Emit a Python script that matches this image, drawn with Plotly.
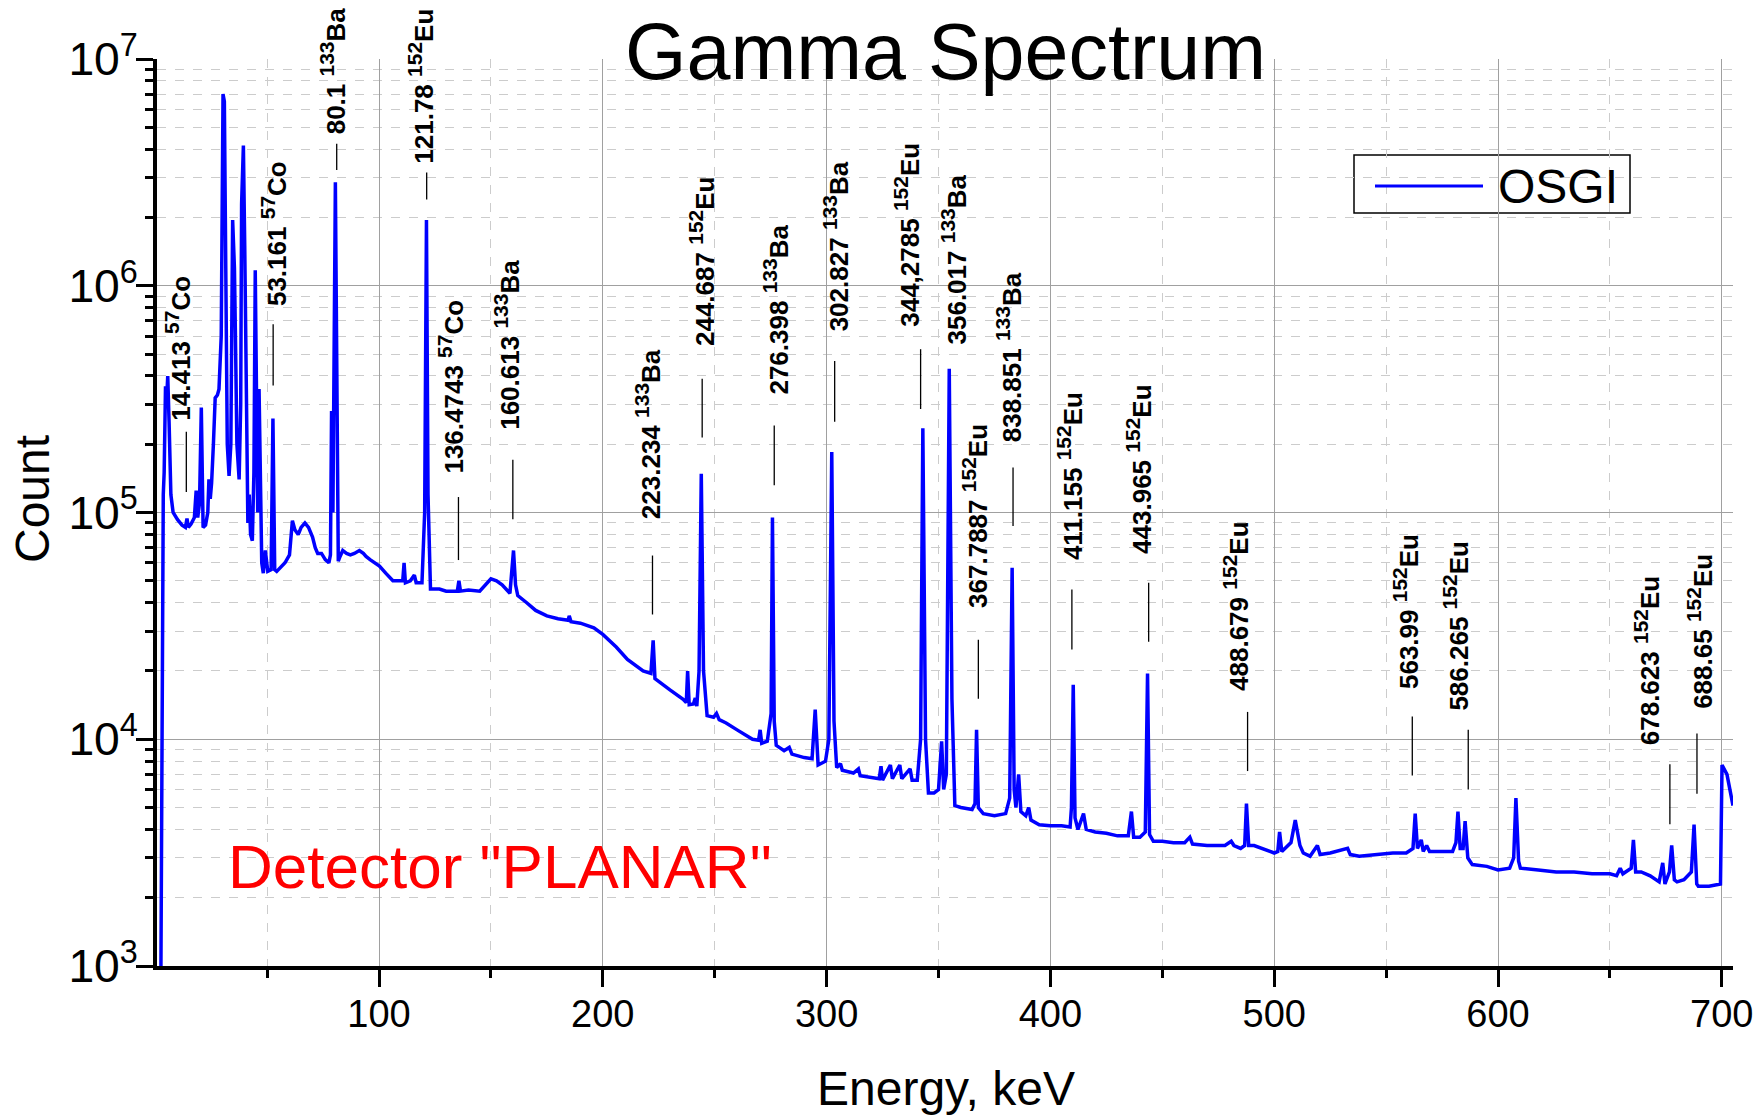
import math
import plotly.graph_objects as go

# ---------------- data ----------------
energy_kev = [
    2.3, 2.6, 3.0, 3.6, 4.0, 4.6, 5.0, 5.6, 6.2, 6.6, 7.0, 8.0, 10, 12, 13.5, 14.2, 14.8, 16, 17.5, 18.3,
    19.0, 19.8, 20.6, 21.4, 22.5, 23.5, 24.0, 24.6, 25.2, 26.0, 26.8, 27.8, 28.5, 29.5, 30.3, 30.9, 31.5,
    32.2, 33.0, 33.8, 34.6, 35.4, 35.8, 36.5, 37.5, 38.2, 38.6, 39.4, 40.0, 40.8, 41.4, 42.0, 42.6, 43.4,
    44.1, 44.7, 45.4, 45.8, 46.4, 47.0, 47.6, 48.3, 49.2, 50.3, 51.8, 52.6, 53.4, 54.3, 56, 58, 60, 61.3,
    62.4, 63.9, 65.2, 66.9, 68.5, 70.3, 71.5, 72.6, 74.3, 76, 77.6, 78.3, 78.8, 79.4, 80.5, 81.2, 81.8,
    82.6, 83.8, 85.5, 87.2, 89, 91.2, 93, 94.2, 96, 100.2, 103, 106.2, 109, 110.6, 111.2, 111.8, 114,
    115.8, 116.6, 119.2, 120.4, 121.2, 121.9, 123.0, 127, 130, 135.0, 135.7, 136.4, 140, 145, 147.5, 150,
    152.5, 155, 158.5, 160.1, 161, 162, 166, 170, 175, 180, 184.5, 185.0, 185.8, 190, 196, 200, 206, 211,
    218, 221.5, 222.5, 223.3, 230, 235.9, 237.3, 237.9, 238.6, 240.5, 241.3, 242, 243.0, 244.0, 245.0,
    246.6, 249.5, 250.8, 252, 255.1, 260, 266.9, 269.6, 270.3, 271.0, 273.5, 275.2, 275.8, 276.6, 277.5,
    281, 283.3, 284.5, 290, 293.5, 294.9, 296.2, 299.5, 301.0, 302.3, 303.3, 304.5, 306.2, 307, 312,
    314.2, 315, 320, 323.5, 324.3, 325, 328.5, 329.4, 332.7, 333.6, 337.3, 338.2, 340.5, 342.0, 343.0,
    344.2, 345.5, 348, 350, 351.4, 352.3, 353.5, 354.8, 356.0, 357.3, 360, 365, 366.3, 367.0, 367.8, 370,
    375, 380, 381.8, 382.9, 383.8, 384.6, 385.8, 386.8, 389, 390.3, 391.3, 395, 400, 405, 408.8, 409.4,
    410.2, 411.0, 412.3, 414.8, 416, 420, 425, 430, 434.8, 436.2, 437.2, 440, 442.4, 443.4, 444.3, 446,
    450, 455, 460, 462.3, 463.5, 470, 478, 480.8, 482, 485, 486.8, 487.6, 488.6, 491, 495, 500, 501.6,
    502.4, 503.4, 505, 507.5, 509.4, 511.5, 513, 516, 519.3, 520.5, 525, 532.8, 534, 538, 546, 553, 559,
    562, 563.0, 564, 565.7, 566.6, 568.1, 569.4, 575, 579.7, 581.2, 582.1, 583.1, 584.4, 585.3, 586.5,
    588.5, 595, 600, 605.2, 607.0, 608.0, 609.2, 610, 618, 626, 634, 642, 650, 653, 654.6, 655.8, 659.5,
    660.5, 661.5, 664, 668, 672, 673.6, 674.6, 676.6, 677.6, 678.8, 680, 683.1, 686.4, 687.6, 688.8,
    689.5, 694.3, 699.4, 700.1, 702.3, 704.6, 705,
]
counts = [
    300, 2000, 3.0e4, 1.2e5, 1.5e5, 3.6e5, 3.0e5, 4.0e5, 2.5e5, 1.6e5, 1.2e5, 1.0e5, 9.3e4, 8.8e4, 8.6e4,
    9.4e4, 8.6e4, 8.9e4, 9.5e4, 1.25e5, 9.5e4, 1.1e5, 2.9e5, 8.6e4, 8.8e4, 1.0e5, 1.4e5, 1.15e5, 1.35e5,
    2.0e5, 3.2e5, 3.3e5, 3.5e5, 6.0e5, 7.0e6, 6.5e6, 1.0e6, 2.0e5, 1.45e5, 2.0e5, 1.95e6, 1.2e6, 6.5e5,
    2.0e5, 1.4e5, 3.0e5, 2.3e6, 4.15e6, 1.5e6, 2.5e5, 9.0e4, 1.2e5, 8.0e4, 7.5e4, 1.5e5, 1.17e6, 2.0e5,
    1.0e5, 3.5e5, 1.0e5, 6.0e4, 5.4e4, 6.8e4, 5.5e4, 5.6e4, 2.6e5, 5.6e4, 5.5e4, 5.7e4, 6.0e4, 6.5e4,
    9.2e4, 8.4e4, 8.0e4, 8.6e4, 9.0e4, 8.6e4, 7.8e4, 7.0e4, 6.6e4, 6.6e4, 6.2e4, 6.0e4, 6.5e4, 2.8e5,
    1.0e5, 2.86e6, 1.5e5, 6.1e4, 6.4e4, 6.8e4, 6.6e4, 6.5e4, 6.6e4, 6.8e4, 6.6e4, 6.4e4, 6.2e4, 5.8e4,
    5.4e4, 5.0e4, 5.0e4, 5.0e4, 6.0e4, 4.9e4, 5.0e4, 5.3e4, 4.9e4, 4.9e4, 1.0e5, 1.95e6, 1.2e5, 4.6e4,
    4.6e4, 4.5e4, 4.5e4, 5.0e4, 4.5e4, 4.55e4, 4.5e4, 4.8e4, 5.1e4, 5.0e4, 4.8e4, 4.4e4, 6.8e4, 4.8e4,
    4.3e4, 4.0e4, 3.7e4, 3.5e4, 3.4e4, 3.35e4, 3.5e4, 3.3e4, 3.25e4, 3.1e4, 2.9e4, 2.55e4, 2.25e4, 2.0e4,
    1.95e4, 2.73e4, 1.85e4, 1.65e4, 1.5e4, 1.45e4, 2.0e4, 1.42e4, 1.43e4, 1.52e4, 1.4e4, 2.0e4, 1.48e5,
    2.0e4, 1.27e4, 1.25e4, 1.3e4, 1.22e4, 1.18e4, 1.1e4, 1.0e4, 9.9e3, 1.1e4, 9.6e3, 9.8e3, 1.3e4, 9.5e4,
    1.2e4, 9.4e3, 8.9e3, 9.2e3, 8.6e3, 8.3e3, 8.2e3, 1.35e4, 7.7e3, 8.0e3, 1.0e4, 1.85e5, 1.2e4, 7.5e3,
    7.8e3, 7.3e3, 7.1e3, 7.4e3, 6.9e3, 6.8e3, 6.7e3, 7.6e3, 6.6e3, 7.7e3, 6.7e3, 7.7e3, 6.7e3, 7.4e3,
    6.6e3, 6.6e3, 1.0e4, 2.35e5, 1.0e4, 5.8e3, 5.8e3, 6.0e3, 9.8e3, 6.0e3, 7.0e3, 4.3e5, 1.5e4, 5.1e3,
    5.0e3, 4.9e3, 5.2e3, 1.1e4, 5.0e3, 4.7e3, 4.6e3, 4.7e3, 5.5e3, 5.7e4, 6.0e3, 5.0e3, 7.0e3, 4.8e3,
    4.6e3, 5.0e3, 4.4e3, 4.2e3, 4.15e3, 4.15e3, 4.1e3, 5.0e3, 1.74e4, 4.5e3, 4.0e3, 4.7e3, 4.0e3, 3.9e3,
    3.85e3, 3.75e3, 3.75e3, 4.8e3, 3.7e3, 3.7e3, 3.9e3, 1.95e4, 3.8e3, 3.55e3, 3.55e3, 3.5e3, 3.5e3,
    3.7e3, 3.45e3, 3.4e3, 3.4e3, 3.55e3, 3.4e3, 3.3e3, 3.4e3, 5.2e3, 3.4e3, 3.4e3, 3.3e3, 3.15e3, 3.2e3,
    3.9e3, 3.2e3, 3.3e3, 3.5e3, 4.4e3, 3.4e3, 3.15e3, 3.05e3, 3.4e3, 3.1e3, 3.15e3, 3.3e3, 3.1e3, 3.05e3,
    3.1e3, 3.15e3, 3.15e3, 3.3e3, 4.7e3, 3.3e3, 3.6e3, 3.2e3, 3.4e3, 3.2e3, 3.2e3, 3.2e3, 3.5e3, 4.8e3,
    3.3e3, 3.3e3, 4.35e3, 3.0e3, 2.8e3, 2.75e3, 2.65e3, 2.7e3, 3.0e3, 5.5e3, 2.9e3, 2.7e3, 2.65e3, 2.6e3,
    2.6e3, 2.55e3, 2.55e3, 2.5e3, 2.7e3, 2.55e3, 2.7e3, 3.6e3, 2.6e3, 2.6e3, 2.5e3, 2.35e3, 2.85e3,
    2.3e3, 2.6e3, 3.4e3, 2.4e3, 2.35e3, 2.4e3, 2.6e3, 4.2e3, 2.3e3, 2.25e3, 2.25e3, 2.3e3, 7.7e3, 7.0e3,
    5.3e3, 5.1e3,
]

# peak labels
label_energy = ["14.413", "53.161", "80.1", "121.78", "136.4743", "160.613", "223.234", "244.687",
                "276.398", "302.827", "344,2785", "356.017", "367.7887", "838.851", "411.155",
                "443.965", "488.679", "563.99", "586.265", "678.623", "688.65"]
label_mass = ["57", "57", "133", "152", "57", "133", "133", "152", "133", "133", "152", "133", "152",
              "133", "152", "152", "152", "152", "152", "152", "152"]
label_elem = ["Co", "Co", "Ba", "Eu", "Co", "Ba", "Ba", "Eu", "Ba", "Ba", "Eu", "Ba", "Eu", "Ba", "Eu",
              "Eu", "Eu", "Eu", "Eu", "Eu", "Eu"]
label_x = [12.2, 54.9, 81.1, 120.4, 133.8, 159.0, 221.8, 245.8, 279.1, 306.0, 337.7, 358.9, 368.1,
           383.3, 410.9, 441.1, 484.7, 560.4, 583.0, 668.5, 692.0]
label_y = [2.49e5, 7.94e5, 4.57e6, 3.39e6, 1.45e5, 2.27e5, 9.12e4, 5.33e5, 3.24e5, 6.17e5, 6.46e5,
           5.42e5, 3.72e4, 2.0e5, 6.03e4, 6.46e4, 1.60e4, 1.63e4, 1.31e4, 9.25e3, 1.34e4]

# short marker lines under the labels
marker_x = [13.9, 52.7, 81.1, 121.3, 135.5, 159.8, 222.2, 244.4, 276.6, 303.6, 342.0, 367.8, 383.3,
            409.6, 443.9, 488.1, 561.7, 586.7, 676.8, 688.9]
marker_lo = [1.23e5, 3.63e5, 3.24e6, 2.40e6, 6.17e4, 9.33e4, 3.55e4, 2.14e5, 1.32e5, 2.51e5, 2.86e5,
             1.51e4, 8.71e4, 2.49e4, 2.69e4, 7.24e3, 6.92e3, 6.0e3, 4.22e3, 5.75e3]
marker_hi = [2.27e5, 6.76e5, 4.23e6, 3.16e6, 1.17e5, 1.71e5, 6.46e4, 3.89e5, 2.42e5, 4.66e5, 5.25e5,
             2.75e4, 1.58e5, 4.57e4, 4.90e4, 1.32e4, 1.26e4, 1.10e4, 7.76e3, 1.06e4]

x_ticks = [100, 200, 300, 400, 500, 600, 700]

# ---------------- figure ----------------
W, H = 1758, 1117
ML, MR, MT, MB = 157, 25, 59, 151
PW, PH = W - ML - MR, H - MT - MB
FONT = "Arial, Liberation Sans, sans-serif"


def px(fx):
    return (fx - ML) / PW


def py(fy):
    return (H - MB - fy) / PH


fig = go.Figure()

fig.add_trace(go.Scatter(x=energy_kev, y=counts, mode="lines", name="OSGI",
                         line=dict(color="#0000FF", width=3.5), showlegend=False))

mx, my = [], []
for e, lo, hi in zip(marker_x, marker_lo, marker_hi):
    mx += [e, e, None]
    my += [lo, hi, None]
fig.add_trace(go.Scatter(x=mx, y=my, mode="lines", line=dict(color="black", width=1.3),
                         showlegend=False, hoverinfo="skip"))

annotations = []
for t, m, el, x, y in zip(label_energy, label_mass, label_elem, label_x, label_y):
    annotations.append(dict(
        x=x, y=math.log10(y), xref="x", yref="y",
        text=f"{t} <sup><span style='font-size:21px'>{m}</span></sup>{el}",
        textangle=-90, showarrow=False, xanchor="center", yanchor="bottom", xshift=-4,
        font=dict(family=FONT, size=26, color="black", weight="bold"),
    ))

# title
annotations.append(dict(x=px(945), y=py(52), xref="paper", yref="paper", text="Gamma Spectrum",
                        showarrow=False, xanchor="center", yanchor="middle",
                        font=dict(family=FONT, size=79, color="black")))
# detector label
annotations.append(dict(x=px(500), y=py(866), xref="paper", yref="paper", text='Detector "PLANAR"',
                        showarrow=False, xanchor="center", yanchor="middle",
                        font=dict(family=FONT, size=62, color="#FF0000")))
# legend text
annotations.append(dict(x=px(1496), y=py(187), xref="paper", yref="paper", text="OSGI",
                        showarrow=False, xanchor="left", yanchor="middle",
                        font=dict(family=FONT, size=48, color="black")))
# axis titles
annotations.append(dict(x=px(946), y=py(1088), xref="paper", yref="paper", text="Energy, keV",
                        showarrow=False, xanchor="center", yanchor="middle",
                        font=dict(family=FONT, size=48, color="black")))
annotations.append(dict(x=px(33), y=py(499), xref="paper", yref="paper", text="Count",
                        textangle=-90, showarrow=False, xanchor="center", yanchor="middle",
                        font=dict(family=FONT, size=48, color="black")))

shapes = [
    # white backdrop behind title
    dict(type="rect", xref="paper", yref="paper", x0=px(582), x1=px(1310), y0=py(114), y1=py(40),
         fillcolor="white", line=dict(width=0), layer="between"),
    # white backdrop behind detector text
    dict(type="rect", xref="paper", yref="paper", x0=px(201), x1=px(805), y0=py(909), y1=py(811),
         fillcolor="white", line=dict(width=0), layer="between"),
    # legend box
    dict(type="rect", xref="paper", yref="paper", x0=px(1354), x1=px(1630), y0=py(213), y1=py(155),
         fillcolor="white", line=dict(color="black", width=1.5), layer="between"),
    dict(type="line", xref="paper", yref="paper", x0=px(1375), x1=px(1483), y0=py(186), y1=py(186),
         line=dict(color="#0000FF", width=3), layer="above"),
]

fig.update_layout(
    width=W, height=H,
    margin=dict(l=ML, r=MR, t=MT, b=MB, autoexpand=False),
    paper_bgcolor="white", plot_bgcolor="white",
    font=dict(family=FONT, color="black"),
    annotations=annotations, shapes=shapes,
    showlegend=False,
)

fig.update_xaxes(
    range=[0.8, 705], tickmode="array", tickvals=x_ticks, ticktext=[str(v) for v in x_ticks],
    showline=True, linecolor="black", linewidth=3.5, mirror=False, zeroline=False,
    ticks="outside", ticklen=17, tickwidth=3, tickcolor="black", ticklabelstandoff=-5,
    tickfont=dict(family=FONT, size=38, color="black"),
    showgrid=True, gridcolor="#A0A0A0", gridwidth=1.3,
    minor=dict(dtick=50, tick0=0, ticks="outside", ticklen=8, tickwidth=3, tickcolor="black",
               showgrid=True, gridcolor="#CCCCCC", griddash="dash", gridwidth=1),
)
fig.update_yaxes(
    type="log", range=[3, 7], dtick=1, exponentformat="power",
    showline=True, linecolor="black", linewidth=3.5, mirror=False, zeroline=False,
    ticks="outside", ticklen=17, tickwidth=3, tickcolor="black", ticklabelstandoff=-9,
    tickfont=dict(family=FONT, size=37, color="black"),
    showgrid=True, gridcolor="#A0A0A0", gridwidth=1.3,
    minor=dict(dtick="D1", ticks="outside", ticklen=8, tickwidth=3, tickcolor="black",
               showgrid=True, gridcolor="#CCCCCC", griddash="dash", gridwidth=1),
)

fig.write_html("out.html")
